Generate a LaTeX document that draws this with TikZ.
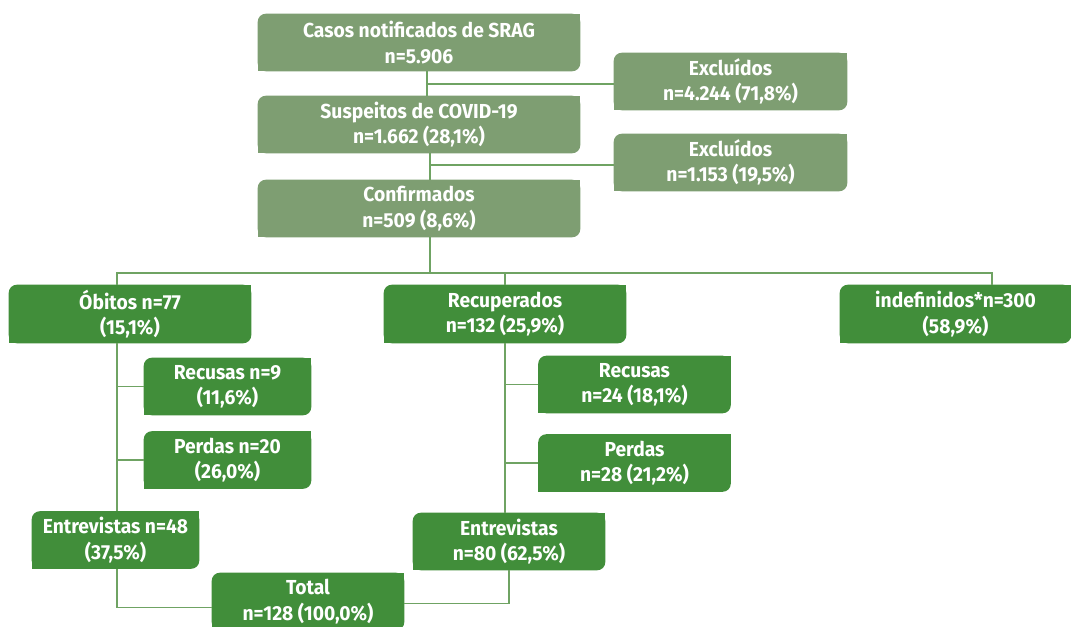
\documentclass[tikz,border=0pt]{standalone}
\usepackage{fontspec}
\setmainfont{Fira Sans}[FakeStretch=0.95]
\usetikzlibrary{positioning}
\definecolor{lightgreen}{HTML}{7E9E72}
\definecolor{darkgreen}{HTML}{418E3A}
\definecolor{linegreen}{HTML}{6FA363}
\pgfdeclarelayer{background}
\pgfsetlayers{background,main}
\tikzset{
  box/.style={
    rectangle, align=center, inner sep=0pt, text=white,
    font=\bfseries\fontsize{15.2}{19}\selectfont,
    minimum height=42.75pt
  },
  wide/.style={box, minimum width=241.5pt},
  excl/.style={box, minimum width=174.75pt},
  grp/.style={box, minimum width=181.5pt, minimum height=43.5pt},
  sub/.style={box, minimum width=125.25pt},
  subwide/.style={box, minimum width=144pt},
  conn/.style={draw=linegreen, line width=1pt},
}

\begin{document}
\begin{tikzpicture}[x=0.75pt, y=-0.75pt]
  \useasboundingbox (0,0) rectangle (1071,627);
  \node[wide] (casos) at (419,42.5) {Casos notificados de SRAG\\n=5.906};
  \node[excl] (exc1) at (730.5,81.5) {Excluídos\\n=4.244 (71,8\%)};
  \node[wide] (susp) at (419,124.5) {Suspeitos de COVID-19\\n=1.662 (28,1\%)};
  \node[excl] (exc2) at (730.5,162.5) {Excluídos\\n=1.153 (19,5\%)};
  \node[wide] (conf) at (419,208.5) {Confirmados\\n=509 (8,6\%)};
  \node[grp] (obi) at (130,314) {Óbitos n=77\\(15,1\%)};
  \node[grp] (recup) at (505,314) {Recuperados\\n=132 (25,9\%)};
  \node[grp, minimum width=173.25pt] (indef) at (955.5,314) {indefinidos*n=300\\(58,9\%)};
  \node[sub] (rec9) at (227.5,386.5) {Recusas n=9\\(11,6\%)};
  \node[sub] (per20) at (227.5,460) {Perdas n=20\\(26,0\%)};
  \node[sub] (ent48) at (115.5,540) {Entrevistas n=48\\(37,5\%)};
  \node[subwide] (total) at (308,601.5) {Total\\n=128 (100,0\%)};
  \node[subwide] (rec24) at (634.5,384.5) {Recusas\\n=24 (18,1\%)};
  \node[subwide] (per28) at (634.5,463) {Perdas\\n=28 (21,2\%)};
  \node[subwide] (ent80) at (509,541.5) {Entrevistas\\n=80 (62,5\%)};
  \begin{pgfonlayer}{background}
    \foreach \n/\c in {casos/lightgreen, exc1/lightgreen, susp/lightgreen,
        exc2/lightgreen, conf/lightgreen, obi/darkgreen, recup/darkgreen,
        indef/darkgreen, rec9/darkgreen, per20/darkgreen, ent48/darkgreen,
        total/darkgreen, rec24/darkgreen, per28/darkgreen, ent80/darkgreen} {
      \fill[\c, rounded corners=6pt] (\n.south west) rectangle (\n.north east);
      \fill[\c] (\n.north east) rectangle ([xshift=-8pt, yshift=-8pt]\n.north east);
      \fill[\c] (\n.south west) rectangle ([xshift=8pt, yshift=8pt]\n.south west);
    }
  \end{pgfonlayer}
  \coordinate (c1) at (427,84);
  \coordinate (c2) at (430,165);
  \coordinate (bl) at (117,273);
  \coordinate (bm) at (430,273);
  \coordinate (br) at (992,273);
  \draw[conn] (casos.south -| c1) -- (susp.north -| c1);
  \draw[conn] (c1) -- (c1 -| exc1.west);
  \draw[conn] (susp.south -| c2) -- (conf.north -| c2);
  \draw[conn] (c2) -- (c2 -| exc2.west);
  \draw[conn] (conf.south -| bm) -- (bm);
  \draw[conn] (bl |- obi.north) -- (bl) -- (br) -- (br |- indef.north);
  \draw[conn] (recup.north |- bm) -- (recup.north);
  \draw[conn] (obi.south -| bl) -- (ent48.north -| bl);
  \draw[conn] (rec9.west -| bl) -- (rec9.west);
  \draw[conn] (per20.west -| bl) -- (per20.west);
  \draw[conn] (recup.south) -- (ent80.north -| recup.south);
  \draw[conn] (rec24.west -| recup.south) -- (rec24.west);
  \draw[conn] (per28.west -| recup.south) -- (per28.west);
  \draw[conn] (ent48.south -| bl) |- ([yshift=-4.5pt]total.west);
  \draw[conn] (ent80.south) |- ([yshift=-1.5pt]total.east);
\end{tikzpicture}
\end{document}
